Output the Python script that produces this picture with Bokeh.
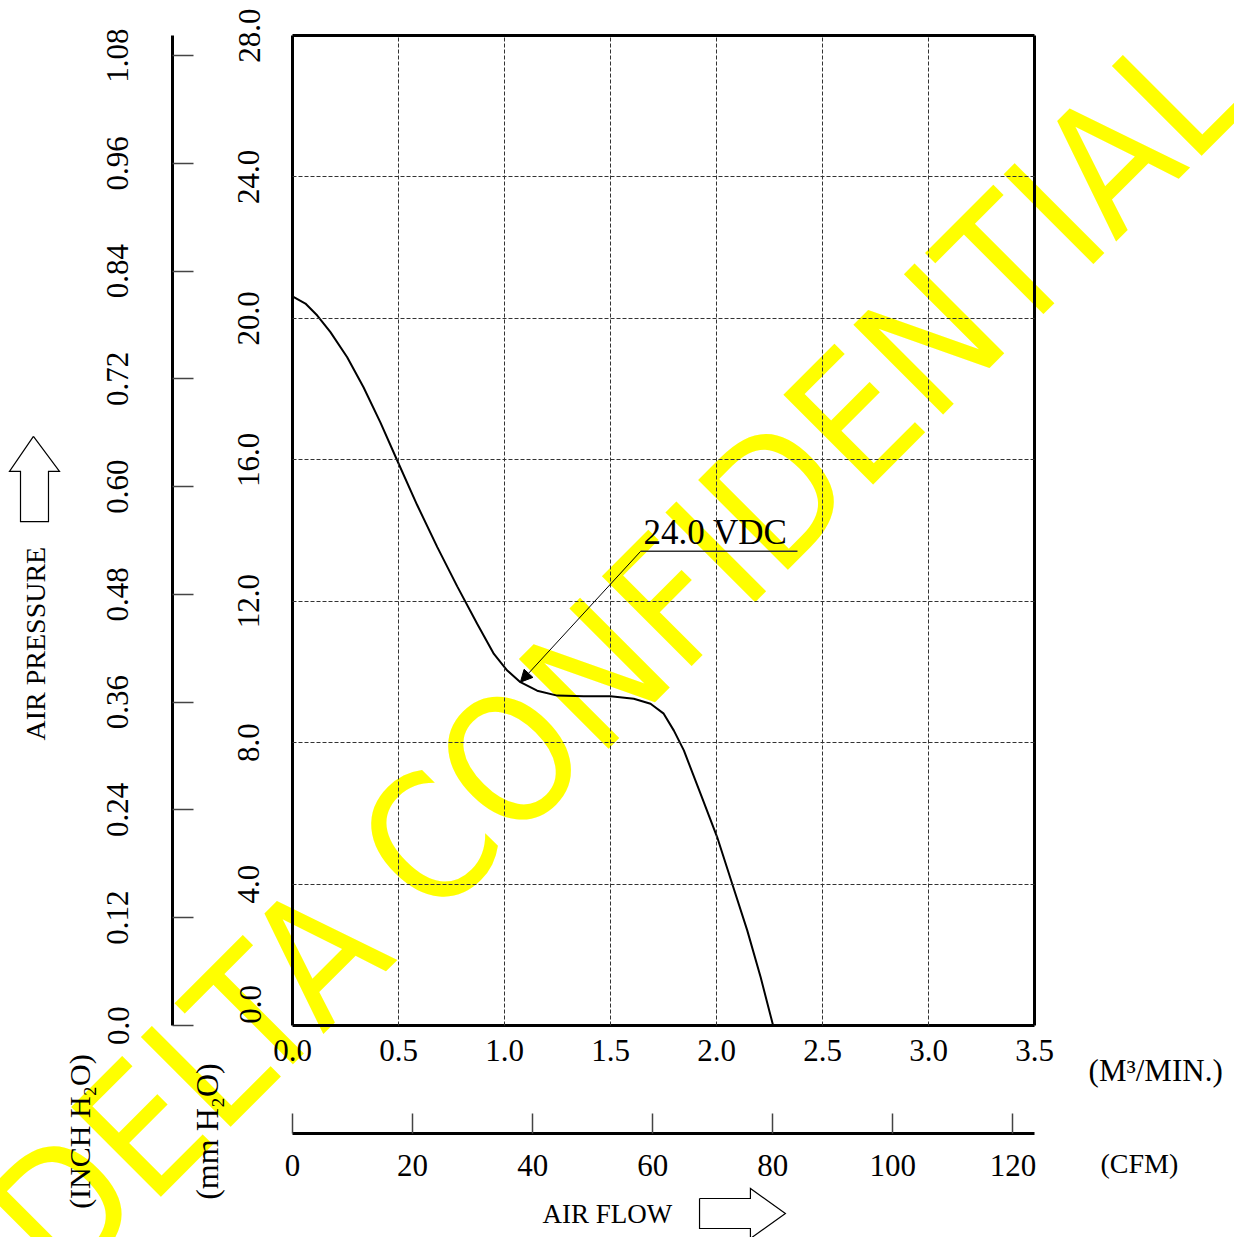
import math
from bokeh.plotting import figure
from bokeh.models import (Range1d, LinearAxis, FixedTicker, PrintfTickFormatter,
                          CustomJSTickFormatter, Arrow, NormalHead, Grid)
from bokeh.core.properties import value
from bokeh.embed import file_html
from bokeh.resources import INLINE

# ---------------- data ----------------
flow_m3min = [0.000, 0.061, 0.117, 0.179, 0.258, 0.335, 0.415, 0.494, 0.588, 0.683,
              0.777, 0.871, 0.950, 1.013, 1.075, 1.154, 1.249, 1.374, 1.500, 1.610,
              1.689, 1.751, 1.799, 1.846, 1.925, 2.003, 2.074, 2.145, 2.208, 2.267]
pressure_mm = [20.62, 20.42, 20.08, 19.61, 18.90, 18.05, 17.05, 15.98, 14.72, 13.53,
               12.42, 11.36, 10.51, 10.04, 9.71, 9.47, 9.33, 9.31, 9.31, 9.24,
               9.10, 8.82, 8.34, 7.78, 6.55, 5.33, 4.01, 2.69, 1.37, 0.00]

mm_ticks = [0, 4, 8, 12, 16, 20, 24, 28]
inch_ticks = [0.0, 0.12, 0.24, 0.36, 0.48, 0.60, 0.72, 0.84, 0.96, 1.08]
m3_ticks = [0.0, 0.5, 1.0, 1.5, 2.0, 2.5, 3.0, 3.5]
cfm_ticks = [0, 20, 40, 60, 80, 100, 120]
x_grid = [0.5, 1.0, 1.5, 2.0, 2.5, 3.0]
y_grid = [4, 8, 12, 16, 20, 24]

curve_label = "24.0  VDC"
watermark = "DELTA CONFIDENTIAL"
MM_PER_INCH = 25.4
CFM_PER_M3MIN = 35.3147
X_MAX, Y_MAX = 3.5, 28.0

SERIF = "Liberation Serif"
LBL = "31px"

p = figure(width=1234, height=1237,
           x_range=Range1d(0, X_MAX), y_range=Range1d(0, Y_MAX),
           x_axis_type=None, y_axis_type=None,
           output_backend="svg", toolbar_location=None,
           min_border_left=292, min_border_right=200,
           min_border_top=35, min_border_bottom=212,
           outline_line_color=None,
           background_fill_color="white", border_fill_color="white")

p.extra_y_ranges = {"inch": Range1d(0, Y_MAX / MM_PER_INCH)}
p.extra_x_ranges = {"cfm": Range1d(0, X_MAX * CFM_PER_M3MIN)}

# grid
for dim, ticks in ((0, x_grid), (1, y_grid)):
    p.add_layout(Grid(dimension=dim, ticker=FixedTicker(ticks=ticks),
                      grid_line_color="#333333", grid_line_width=1,
                      grid_line_dash="4 2", level="overlay"))


def common(ax):
    ax.major_label_text_font = SERIF
    ax.major_label_text_font_size = LBL
    ax.major_label_text_color = "black"
    ax.minor_tick_line_color = None
    ax.axis_line_color = "black"
    ax.axis_line_width = 3
    ax.level = "overlay"
    return ax


# left: mm H2O (frame edge); its 0.0 label sits a little higher, drawn below
mm_axis = common(LinearAxis(ticker=FixedTicker(ticks=mm_ticks),
                            formatter=CustomJSTickFormatter(
                                code="return tick < 1e-9 ? '' : tick.toFixed(1);")))
mm_axis.major_tick_line_color = None
mm_axis.major_tick_out = 0
mm_axis.major_tick_in = 0
mm_axis.major_label_orientation = "vertical"
mm_axis.major_label_standoff = 33
mm_axis.axis_label = " "
mm_axis.axis_label_text_font_size = "10px"
mm_axis.axis_label_standoff = 49
p.add_layout(mm_axis, "left")

# left: inch H2O
inch_axis = common(LinearAxis(y_range_name="inch", ticker=FixedTicker(ticks=inch_ticks),
                              formatter=CustomJSTickFormatter(
                                  code="return tick < 1e-9 ? '0.0' : tick.toFixed(2);")))
inch_axis.major_tick_in = 21
inch_axis.major_tick_out = 0
inch_axis.major_tick_line_color = "#444444"
inch_axis.major_tick_line_width = 1.5
inch_axis.major_label_orientation = "vertical"
inch_axis.major_label_standoff = 44
p.add_layout(inch_axis, "left")

# bottom: m3/min (frame edge)
x_axis = common(LinearAxis(ticker=FixedTicker(ticks=m3_ticks),
                           formatter=PrintfTickFormatter(format="%.1f")))
x_axis.major_tick_line_color = None
x_axis.major_tick_out = 0
x_axis.major_tick_in = 0
x_axis.major_label_standoff = 14
x_axis.axis_label = " "
x_axis.axis_label_text_font_size = "10px"
x_axis.axis_label_standoff = 56
p.add_layout(x_axis, "below")

# bottom: CFM
cfm_axis = common(LinearAxis(x_range_name="cfm", ticker=FixedTicker(ticks=cfm_ticks),
                             formatter=PrintfTickFormatter(format="%d")))
cfm_axis.major_tick_in = 20
cfm_axis.major_tick_out = 0
cfm_axis.major_tick_line_color = "#444444"
cfm_axis.major_tick_line_width = 1.5
cfm_axis.major_label_standoff = 21
p.add_layout(cfm_axis, "below")

# top / right frame lines
for side in ("above", "right"):
    fr = common(LinearAxis(ticker=FixedTicker(ticks=[])))
    fr.major_tick_line_color = None
    fr.major_tick_out = 0
    fr.major_tick_in = 0
    p.add_layout(fr, side)

# watermark (below the black drawing, not clipped to the frame)
p.text(x=[1.525], y=[10.45], text=[watermark], angle=math.pi / 4,
       text_align="center", text_baseline="middle",
       text_font=value("'Liberation Sans Narrow', 'DejaVu Sans Condensed', 'Liberation Sans'"),
       text_font_size="174px", text_color="#FFFF00", level="annotation")

# curve
p.line(flow_m3min, pressure_mm, line_color="black", line_width=2, level="overlay")

# curve label with leader arrow
p.segment(x0=[1.642], y0=[13.41], x1=[2.382], y1=[13.41],
          line_color="#333333", line_width=1.5, level="overlay")
p.add_layout(Arrow(end=NormalHead(size=12, fill_color="black", line_color="black", line_width=1),
                   x_start=1.642, y_start=13.41, x_end=1.075, y_end=9.71,
                   line_color="black", line_width=1, level="overlay"))


def txt(x, y, t, size, angle=0.0, align="center"):
    p.text(x=[x], y=[y], text=[t], angle=angle, text_align=align,
           text_baseline="middle", text_font=value(SERIF), text_font_size=size,
           text_color="black", level="overlay")


txt(1.656, 13.94, curve_label, "35px", align="left")
txt(-0.198, 0.594, "0.0", LBL, angle=math.pi / 2)
txt(3.755, -1.27, "(M³/MIN.)", "31px", align="left")
txt(3.811, -3.90, "(CFM)", "28px", align="left")
txt(1.179, -5.345, "AIR FLOW", "27px", align="left")
txt(-1.212, 10.80, "AIR PRESSURE", "28px", angle=math.pi / 2)
txt(-1.005, -3.00, "(INCH H₂O)", "30px", angle=math.pi / 2)
txt(-0.401, -3.00, "(mm H₂O)", "32px", angle=math.pi / 2)

# hollow block arrows (closed outlines)
up_xs = [-1.222, -1.099, -1.151, -1.151, -1.283, -1.283, -1.335, -1.222]
up_ys = [16.66, 15.67, 15.67, 14.25, 14.25, 15.67, 15.67, 16.66]
right_xs = [1.920, 2.160, 2.160, 2.325, 2.160, 2.160, 1.920, 1.920]
right_ys = [-4.893, -4.893, -4.610, -5.317, -6.024, -5.741, -5.741, -4.893]
for xs, ys in ((up_xs, up_ys), (right_xs, right_ys)):
    p.line(xs, ys, line_color="black", line_width=1.2, line_join="miter", level="overlay")

open("out.html", "w").write(file_html(p, INLINE))
